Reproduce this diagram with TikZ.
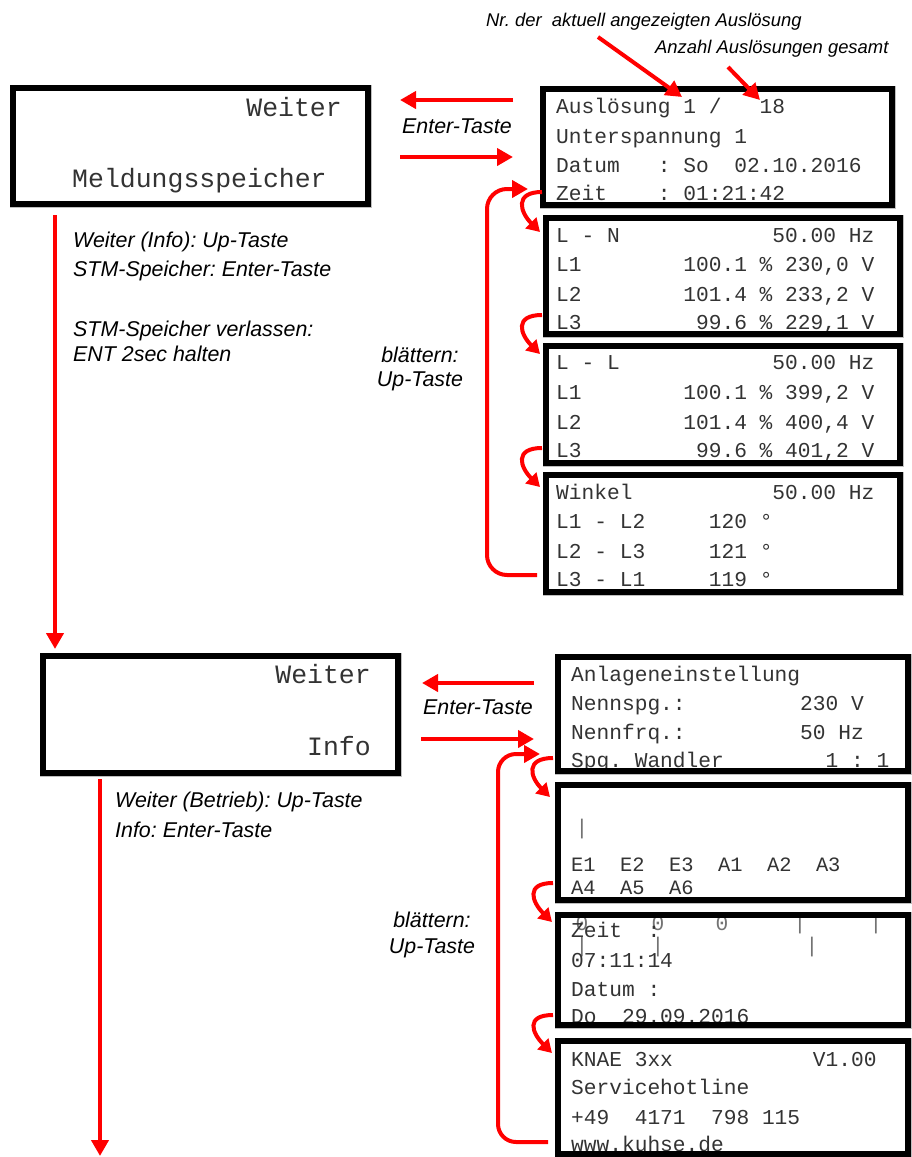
\documentclass[tikz,border=0pt]{standalone}
\usepackage{fontspec}
\setmainfont{Liberation Sans}
\newfontfamily\lmono{Liberation Mono}
\usetikzlibrary{arrows.meta}
\frenchspacing
\begin{document}
\begin{tikzpicture}[x=1pt,y=-1pt,
  lcd/.style={fill=white, draw=black!25, line width=1pt, inner sep=0pt, outer sep=0pt, anchor=north west},
  lcdframe/.style={draw=black, line width=6pt},
  mono/.style={font=\lmono\fontsize{21.2}{21.2}\selectfont, text=black!80, anchor=base west, inner sep=0pt},
  monos/.style={mono, font=\lmono\fontsize{20.4}{20.4}\selectfont},
  bigmono/.style={font=\lmono\fontsize{26.5}{26.5}\selectfont, text=black!80, inner sep=0pt},
  ghost/.style={font=\lmono\fontsize{21.2}{21.2}\selectfont, text=black!55, inner sep=0pt, anchor=center},
  lbl/.style={font=\fontsize{21.4}{25}\selectfont\itshape, anchor=base west, inner sep=0pt},
  note/.style={font=\fontsize{18.4}{22}\selectfont\itshape, anchor=base west, inner sep=0pt},
  arr/.style={draw=red, line width=4pt, -{Triangle[length=16pt,width=17pt]}},
  carr/.style={draw=red, line width=4pt, -{Triangle[length=13pt,width=15pt]}},
]
\useasboundingbox (0,0) rectangle (912,1157);

% ---------- boxes (fill) ----------
\node[lcd, minimum width=361pt, minimum height=122pt] (L1) at (10,85) {};
\node[lcd, minimum width=361pt, minimum height=123pt] (L2) at (40,653) {};
\node[lcd, minimum width=355pt, minimum height=122pt] (R1) at (540,86) {};
\node[lcd, minimum width=360pt, minimum height=122pt] (R2) at (543,215) {};
\node[lcd, minimum width=360pt, minimum height=123pt] (R3) at (543,343) {};
\node[lcd, minimum width=360pt, minimum height=123pt] (R4) at (543,472) {};
\node[lcd, minimum width=356pt, minimum height=120pt] (R5) at (555,654) {};
\node[lcd, minimum width=356pt, minimum height=121pt] (R6) at (555,782) {};
\node[lcd, minimum width=356pt, minimum height=116pt] (R7) at (555,912) {};
\node[lcd, minimum width=356pt, minimum height=119pt] (R8) at (555,1038) {};

% ---------- left boxes text ----------
\node[bigmono, anchor=base east] (l1a) at (342,116) {Weiter};
\node[bigmono, anchor=base west] (l1b) at (72,187) {Meldungsspeicher};
\node[bigmono, anchor=base east] (l2a) at (371,683) {Weiter};
\node[bigmono, anchor=base east] (l2b) at (371,755) {Info};

% ---------- R1 ----------
\node[mono] (r1a) at (556,113) {Auslösung~1~/~~~18};
\node[mono] (r1b) at (556,143) {Unterspannung~1};
\node[mono] (r1c) at (556,172) {Datum~~~:~So~~02.10.2016};
\node[mono] (r1d) at (556,200) {Zeit~~~~:~01:21:42};
% ---------- R2 ----------
\node[mono] (r2a) at (556,242) {L~-~N~~~~~~~~~~~~50.00~Hz};
\node[mono] (r2b) at (556,271) {L1~~~~~~~~100.1~\%~230,0~V};
\node[mono] (r2c) at (556,301) {L2~~~~~~~~101.4~\%~233,2~V};
\node[mono] (r2d) at (556,329) {L3~~~~~~~~~99.6~\%~229,1~V};
% ---------- R3 ----------
\node[mono] (r3a) at (556,369) {L~-~L~~~~~~~~~~~~50.00~Hz};
\node[mono] (r3b) at (556,399) {L1~~~~~~~~100.1~\%~399,2~V};
\node[mono] (r3c) at (556,429) {L2~~~~~~~~101.4~\%~400,4~V};
\node[mono] (r3d) at (556,457) {L3~~~~~~~~~99.6~\%~401,2~V};
% ---------- R4 ----------
\node[mono] (r4a) at (556,499) {Winkel~~~~~~~~~~~50.00~Hz};
\node[mono] (r4b) at (556,528) {L1~-~L2~~~~~120~°};
\node[mono] (r4c) at (556,558) {L2~-~L3~~~~~121~°};
\node[mono] (r4d) at (556,586) {L3~-~L1~~~~~119~°};
% ---------- R5 ----------
\node[mono] (r5a) at (571,681) {Anlageneinstellung};
\node[mono] (r5b) at (571,710) {Nennspg.:~~~~~~~~~230~V};
\node[mono] (r5c) at (571,739) {Nennfrq.:~~~~~~~~~50~Hz};
\node[mono] (r5d) at (571,767) {Spg.~Wandler~~~~~~~~1~:~1};
% ---------- R6 ----------
\node[ghost] (r6g) at (582,829) {|};
\node[monos] (r6a) at (571,871) {E1~~E2~~E3~~A1~~A2~~A3};
\node[monos] (r6b) at (571,894) {A4~~A5~~A6};
% ---------- R7 ----------
\node[ghost] (r7g1) at (582,923) {0};
\node[ghost] (r7g2) at (658,923) {0};
\node[ghost] (r7g3) at (722,923) {0};
\node[ghost] (r7g4) at (800,924) {|};
\node[ghost] (r7g5) at (876,924) {|};
\node[ghost] (r7g6) at (582,947) {|};
\node[ghost] (r7g7) at (658,947) {|};
\node[ghost] (r7g8) at (812,947) {|};
\node[mono] (r7a) at (571,937) {Zeit~~:};
\node[mono] (r7b) at (571,967) {07:11:14};
\node[mono] (r7c) at (571,996) {Datum~:};
\node[mono] (r7d) at (571,1023) {Do~~29.09.2016};
% ---------- R8 ----------
\node[mono] (r8a) at (571,1066) {KNAE~3xx~~~~~~~~~~~V1.00};
\node[mono] (r8b) at (571,1094) {Servicehotline};
\node[mono] (r8c) at (571,1124) {+49~~4171~~798~115};
\node[mono] (r8d) at (571,1151) {www.kuhse.de};

% ---------- frames ----------
\foreach \b in {L1,L2,R1,R2,R3,R4,R5,R6,R7,R8}
  \draw[lcdframe] ([shift={(3,3)}]\b.north west) rectangle ([shift={(-3,-3)}]\b.south east);

% ---------- labels ----------
\node[note] (n1) at (486,26) {Nr. der~ aktuell angezeigten Auslösung};
\node[note] (n2) at (655,53) {Anzahl Auslösungen gesamt};
\node[lbl] (et1) at (402,133) {Enter-Taste};
\node[lbl] (et2) at (423,714) {Enter-Taste};
\node[lbl] (k1) at (73,247) {Weiter (Info): Up-Taste};
\node[lbl] (k2) at (73,276) {STM-Speicher: Enter-Taste};
\node[lbl] (k3) at (73,336) {STM-Speicher verlassen:};
\node[lbl] (k4) at (73,361) {ENT 2sec halten};
\node[lbl, anchor=base] (bl1) at (420,362) {blättern:};
\node[lbl, anchor=base] (up1) at (420,386) {Up-Taste};
\node[lbl] (k5) at (115,807) {Weiter (Betrieb): Up-Taste};
\node[lbl] (k6) at (115,837) {Info: Enter-Taste};
\node[lbl, anchor=base] (bl2) at (432,927) {blättern:};
\node[lbl, anchor=base] (up2) at (432,953) {Up-Taste};

% ---------- connector end points ----------
\coordinate (a1s) at (598,37);  \coordinate (a1e) at (682,97);
\coordinate (a2s) at (728,67);  \coordinate (a2e) at (760,100);
\coordinate (e1s) at (513,100); \coordinate (e1e) at (400,100);
\coordinate (e2s) at (400,157); \coordinate (e2e) at (513,157);
\coordinate (e3s) at (534,683); \coordinate (e3e) at (422,683);
\coordinate (e4s) at (421,739); \coordinate (e4e) at (534,739);
\coordinate (v1s) at (55,215);  \coordinate (v1e) at (55,649);
\coordinate (v2s) at (100,779); \coordinate (v2e) at (100,1156);
\coordinate (b1s) at (537,575); \coordinate (b1k) at (487,189); \coordinate (b1e) at (528,189);
\coordinate (b2s) at (548,1142); \coordinate (b2k) at (498,754); \coordinate (b2e) at (540,754);
\coordinate (c1s) at (542,192); \coordinate (c1e) at (540,232);
\coordinate (c2s) at (542,315); \coordinate (c2e) at (540,354);
\coordinate (c3s) at (542,448); \coordinate (c3e) at (540,487);
\coordinate (c4s) at (553,758); \coordinate (c4e) at (550,797);
\coordinate (c5s) at (553,883); \coordinate (c5e) at (552,922);
\coordinate (c6s) at (553,1015); \coordinate (c6e) at (552,1053);

% ---------- arrows ----------
\draw[arr] (a1s) -- (a1e);
\draw[arr] (a2s) -- (a2e);
\draw[arr] (e1s) -- (e1e);
\draw[arr] (e2s) -- (e2e);
\draw[arr] (e3s) -- (e3e);
\draw[arr] (e4s) -- (e4e);
\draw[arr] (v1s) -- (v1e);
\draw[arr] (v2s) -- (v2e);
\draw[arr, rounded corners=20pt] (b1s) -| (b1k) -- (b1e);
\draw[arr, rounded corners=18pt] (b2s) -| (b2k) -- (b2e);
\foreach \c in {c1,c2,c3,c4,c5,c6}
  \draw[carr] (\c s) .. controls +(-28,0) and +(-20,-20) .. (\c e);
\end{tikzpicture}
\end{document}
